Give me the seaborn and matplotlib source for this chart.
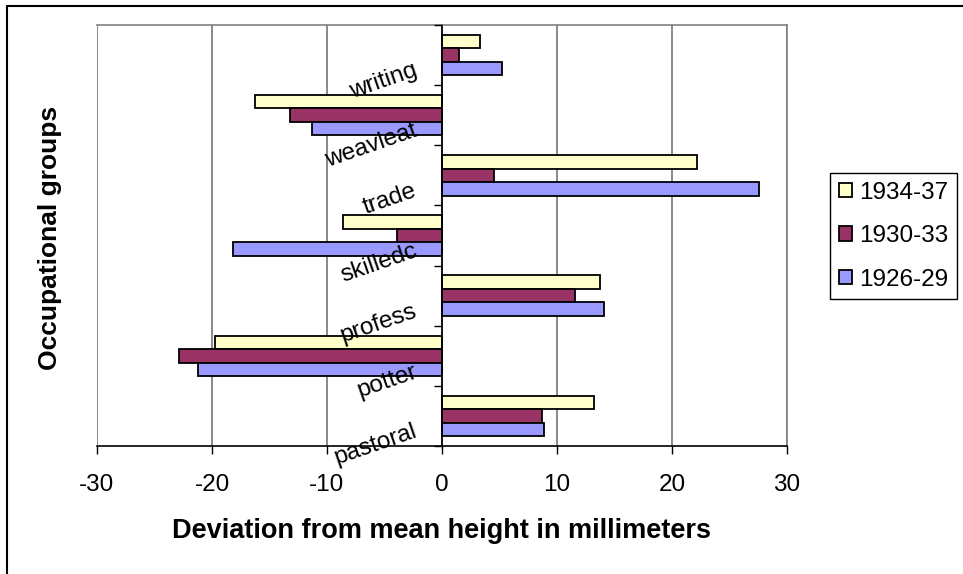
import matplotlib
matplotlib.use("Agg")
import matplotlib.pyplot as plt
from matplotlib.lines import Line2D
import seaborn as sns
import pandas as pd

# Kategorien von oben nach unten
groups = ["writing", "weavleat", "trade", "skilledc", "profess", "potter", "pastoral"]
periods = ["1934-37", "1930-33", "1926-29"]

# Abweichungen in mm
dev_1934_37 = [3.3, -16.3, 22.2, -8.6, 13.7, -19.7, 13.2]
dev_1930_33 = [1.5, -13.2, 4.5, -3.9, 11.6, -22.9, 8.7]
dev_1926_29 = [5.2, -11.3, 27.6, -18.2, 14.1, -21.2, 8.9]

colors = {"1934-37": "#FFFFCC", "1930-33": "#993366", "1926-29": "#9999FF"}

df = pd.DataFrame({
    "group": groups * 3,
    "period": ["1934-37"] * 7 + ["1930-33"] * 7 + ["1926-29"] * 7,
    "dev": dev_1934_37 + dev_1930_33 + dev_1926_29,
})

sns.set_style("white")
plt.rcParams["font.family"] = ["Liberation Sans", "DejaVu Sans"]
plt.rcParams["axes.unicode_minus"] = False
for k in ["text.color", "axes.labelcolor", "xtick.color", "ytick.color"]:
    plt.rcParams[k] = "black"

fig = plt.figure(figsize=(9.63, 5.74), dpi=100)
ax = fig.add_axes([97 / 963, 1 - 446 / 574, 690 / 963, 421 / 574])

sns.barplot(data=df, y="group", x="dev", hue="period", order=groups,
            hue_order=periods, palette=colors, orient="h", width=0.67,
            edgecolor="black", linewidth=1.3, saturation=1, ax=ax)

ax.set_xlim(-30, 30)
ax.set_ylim(6.5, -0.5)
ax.set_xticks(range(-30, 31, 10))

# Gitterlinien hinter den Balken, Achsenbeschriftung davor
ax.grid(False)
ax.set_axisbelow(False)
for xv in range(-30, 31, 10):
    ax.axvline(xv, color="#808080", linewidth=1.3, zorder=0.5)

# y-Achse bei 0, Beschriftungen schräg und nach unten versetzt
ax.spines["left"].set_position(("data", 0))
ax.spines["left"].set_color("black")
ax.spines["left"].set_linewidth(1.2)
ax.spines["bottom"].set_color("black")
ax.spines["bottom"].set_linewidth(1.2)
for s in ["top", "right"]:
    ax.spines[s].set_color("#808080")
    ax.spines[s].set_linewidth(1.2)

ax.set_yticks([i + 0.22 for i in range(len(groups))])
ax.set_yticklabels(groups, rotation=19, fontsize=17.5)
ax.set_yticks([i - 0.5 for i in range(len(groups) + 1)], minor=True)
ax.tick_params(axis="y", which="major", length=0, pad=16)
ax.tick_params(axis="y", which="minor", length=6, width=1, color="black",
               direction="out", left=True)
ax.tick_params(axis="x", length=6, width=1, color="black", direction="out",
               bottom=True, labelsize=17.5, pad=14)

ax.set_xlabel("Deviation from mean height in millimeters", fontsize=19.5,
              fontweight="bold", labelpad=16)
ax.set_ylabel("")
fig.text(50 / 963, 1 - 238 / 574, "Occupational groups", rotation=90,
         fontsize=19, fontweight="bold", ha="center", va="center")

leg = ax.legend(loc="upper left", bbox_to_anchor=(830 / 963, 1 - 173 / 574),
                bbox_transform=fig.transFigure, fontsize=17.5, frameon=True,
                fancybox=False, framealpha=1, edgecolor="black",
                handlelength=0.55, handleheight=0.55, handletextpad=0.3,
                labelspacing=0.88, borderpad=0.36, borderaxespad=0)
leg.get_frame().set_linewidth(1)

# Rahmen um das Diagramm
fig.add_artist(Line2D([7 / 963, 1], [1 - 6 / 574, 1 - 6 / 574], color="black", linewidth=1.5))
fig.add_artist(Line2D([7 / 963, 7 / 963], [0, 1 - 6 / 574], color="black", linewidth=1.5))

plt.savefig("out.png", dpi=100)
